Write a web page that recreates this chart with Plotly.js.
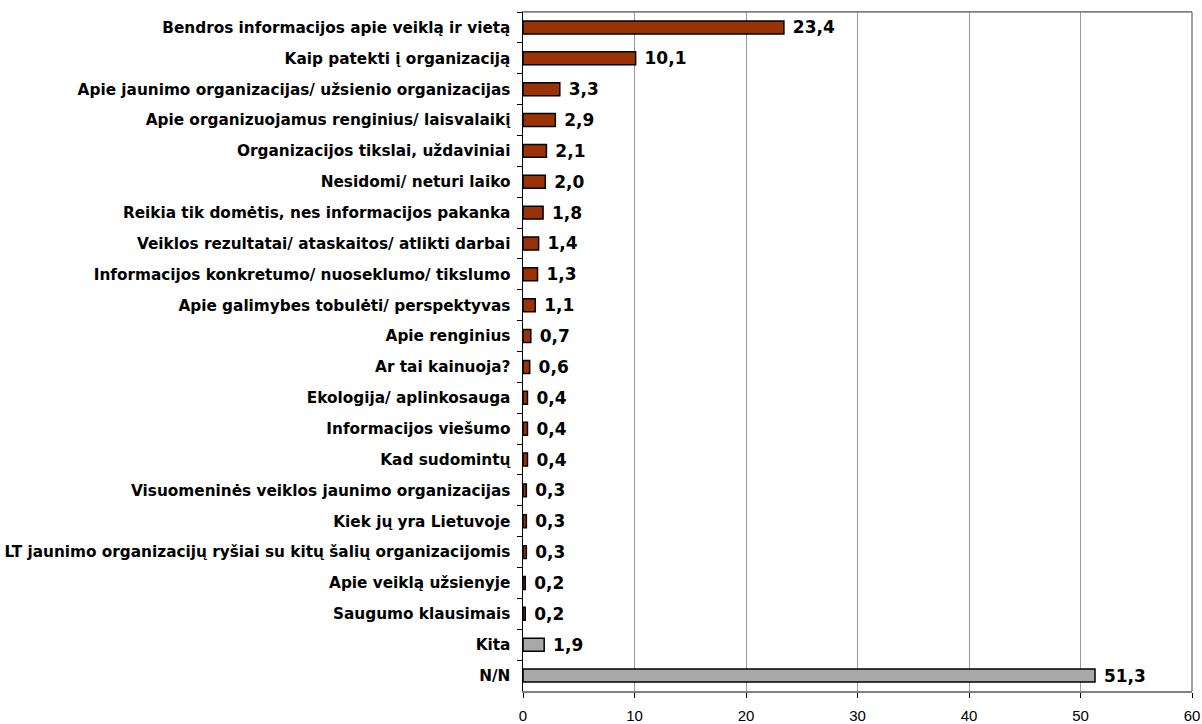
<!DOCTYPE html>
<html>
<head>
<meta charset="utf-8">
<script src="https://cdn.plot.ly/plotly-3.0.1.min.js"></script>
<style>html,body{margin:0;padding:0;background:#fff;}#chart{width:1202px;height:724px;}</style>
</head>
<body>
<div id="chart"></div>
<script>
const categories = [
  "Bendros informacijos apie veiklą ir vietą",
  "Kaip patekti į organizaciją",
  "Apie jaunimo organizacijas/ užsienio organizacijas",
  "Apie organizuojamus renginius/ laisvalaikį",
  "Organizacijos tikslai, uždaviniai",
  "Nesidomi/ neturi laiko",
  "Reikia tik domėtis, nes informacijos pakanka",
  "Veiklos rezultatai/ ataskaitos/ atlikti darbai",
  "Informacijos konkretumo/ nuoseklumo/ tikslumo",
  "Apie galimybes tobulėti/ perspektyvas",
  "Apie renginius",
  "Ar tai kainuoja?",
  "Ekologija/ aplinkosauga",
  "Informacijos viešumo",
  "Kad sudomintų",
  "Visuomeninės veiklos jaunimo organizacijas",
  "Kiek jų yra Lietuvoje",
  "LT jaunimo organizacijų ryšiai su kitų šalių organizacijomis",
  "Apie veiklą užsienyje",
  "Saugumo klausimais",
  "Kita",
  "N/N"
];
const values = [23.4, 10.1, 3.3, 2.9, 2.1, 2.0, 1.8, 1.4, 1.3, 1.1, 0.7, 0.6, 0.4, 0.4, 0.4, 0.3, 0.3, 0.3, 0.2, 0.2, 1.9, 51.3];
const xTicks = [0, 10, 20, 30, 40, 50, 60];

const brown = "#9a3208";
const gray = "#a8a8a8";
const colors = categories.map(c => (c === "Kita" || c === "N/N") ? gray : brown);
const labels = values.map(v => " " + v.toFixed(1).replace(".", ","));

const trace = {
  type: "bar",
  orientation: "h",
  x: values,
  y: categories,
  text: labels,
  textposition: "outside",
  constraintext: "none",
  cliponaxis: false,
  textfont: {family: "DejaVu Sans", size: 17, color: "#000", weight: "bold"},
  marker: {color: colors, line: {color: "#000", width: 1.5}},
  hoverinfo: "none"
};

const layout = {
  width: 1202, height: 724,
  margin: {l: 523, r: 10, t: 12, b: 33, pad: 0},
  paper_bgcolor: "#fff", plot_bgcolor: "#fff",
  bargap: 0.58,
  showlegend: false,
  xaxis: {
    range: [0, 60],
    tickvals: xTicks,
    ticktext: xTicks.map(String),
    showgrid: true, gridcolor: "#999", gridwidth: 1,
    zeroline: false,
    showline: true, linecolor: "#808080", linewidth: 1.5, mirror: true,
    ticks: "outside", ticklen: 5, tickcolor: "#000",
    ticklabelstandoff: 5,
    tickfont: {family: "Liberation Sans", size: 15, color: "#000"},
    fixedrange: true
  },
  yaxis: {
    type: "category",
    autorange: "reversed",
    showgrid: false,
    zeroline: false,
    showline: true, linecolor: "#000", linewidth: 1.5,
    ticks: "outside", ticklen: 5, tickcolor: "#000",
    tickson: "boundaries",
    ticklabelstandoff: 8,
    tickfont: {family: "DejaVu Sans", size: 15.3, color: "#000", weight: "bold"},
    fixedrange: true
  },
  shapes: [
    {type: "line", xref: "paper", yref: "paper", x0: 1, x1: 1, y0: 0, y1: 1, line: {color: "#808080", width: 1.5}},
    {type: "line", xref: "paper", yref: "paper", x0: 0, x1: 1, y0: 1, y1: 1, line: {color: "#808080", width: 1.5}}
  ]
};

Plotly.newPlot("chart", [trace], layout, {displayModeBar: false, staticPlot: true});
</script>
</body>
</html>
